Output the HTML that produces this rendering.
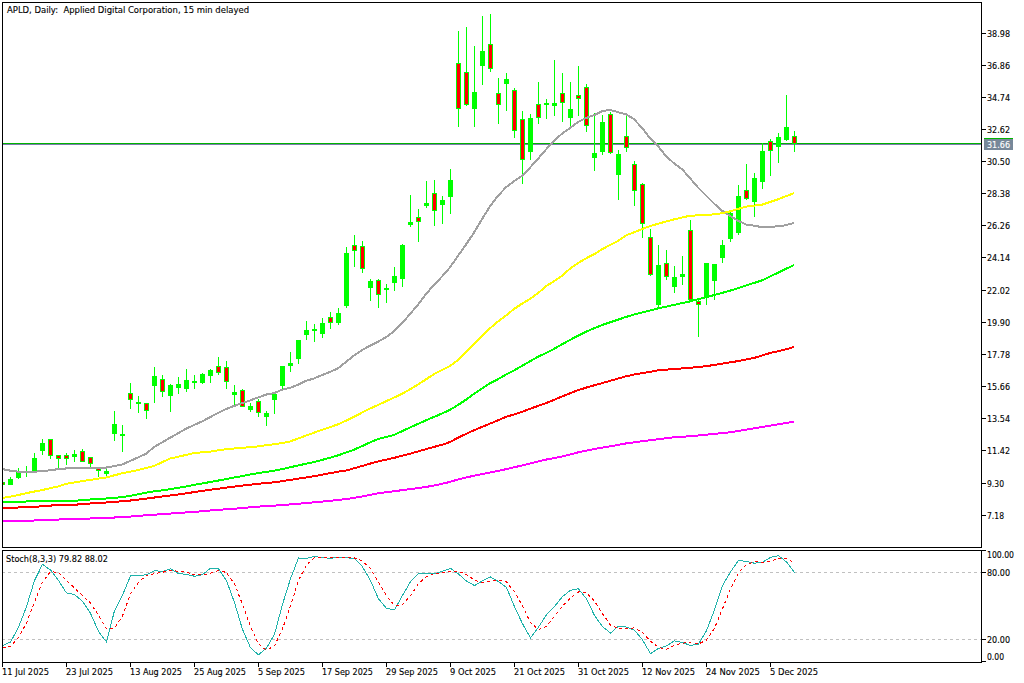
<!DOCTYPE html>
<html><head><meta charset="utf-8"><title>APLD, Daily</title>
<style>html,body{margin:0;padding:0;background:#fff;width:1024px;height:683px;overflow:hidden;position:relative}
text{white-space:pre}
.t{font-family:"DejaVu Sans Condensed","DejaVu Sans","Liberation Sans",sans-serif;font-stretch:condensed;font-size:9.5px}</style></head><body>
<svg width="1024" height="683" viewBox="0 0 1024 683" shape-rendering="crispEdges" style="position:absolute;left:0;top:0">
<rect x="0" y="0" width="1024" height="683" fill="#FFFFFF"/>
<defs><clipPath id="cm"><rect x="3" y="3" width="978" height="544"/></clipPath><clipPath id="cs"><rect x="3" y="551" width="978" height="111"/></clipPath></defs>
<g clip-path="url(#cm)">
<rect x="3" y="143" width="978" height="1" fill="#00B400"/>
<rect x="3" y="144" width="978" height="1" fill="#7C7CAC"/>
</g>
<g clip-path="url(#cm)">
<rect x="2" y="480" width="1" height="8" fill="#00FF00"/>
<rect x="0" y="482" width="5" height="3" fill="#00FF00"/>
<rect x="1" y="483" width="3" height="1" fill="#FF0000"/>
<rect x="10" y="477" width="1" height="8" fill="#00FF00"/>
<rect x="8" y="479" width="5" height="6" fill="#00FF00"/>
<rect x="18" y="468" width="1" height="11" fill="#00FF00"/>
<rect x="16" y="472" width="5" height="6" fill="#00FF00"/>
<rect x="26" y="466" width="1" height="11" fill="#00FF00"/>
<rect x="24" y="471" width="5" height="2" fill="#00FF00"/>
<rect x="34" y="453" width="1" height="18" fill="#00FF00"/>
<rect x="32" y="458" width="5" height="13" fill="#00FF00"/>
<rect x="42" y="439" width="1" height="16" fill="#00FF00"/>
<rect x="40" y="443" width="5" height="8" fill="#00FF00"/>
<rect x="50" y="439" width="1" height="20" fill="#00FF00"/>
<rect x="48" y="439" width="5" height="17" fill="#00FF00"/>
<rect x="49" y="440" width="3" height="15" fill="#FF0000"/>
<rect x="58" y="455" width="1" height="14" fill="#00FF00"/>
<rect x="56" y="455" width="5" height="4" fill="#00FF00"/>
<rect x="57" y="456" width="3" height="2" fill="#FF0000"/>
<rect x="66" y="453" width="1" height="12" fill="#00FF00"/>
<rect x="64" y="455" width="5" height="4" fill="#00FF00"/>
<rect x="65" y="456" width="3" height="2" fill="#FF0000"/>
<rect x="74" y="450" width="1" height="12" fill="#00FF00"/>
<rect x="72" y="454" width="5" height="3" fill="#00FF00"/>
<rect x="82" y="449" width="1" height="13" fill="#00FF00"/>
<rect x="80" y="451" width="5" height="11" fill="#00FF00"/>
<rect x="81" y="452" width="3" height="9" fill="#FF0000"/>
<rect x="90" y="457" width="1" height="10" fill="#00FF00"/>
<rect x="88" y="457" width="5" height="7" fill="#00FF00"/>
<rect x="89" y="458" width="3" height="5" fill="#FF0000"/>
<rect x="98" y="467" width="1" height="10" fill="#00FF00"/>
<rect x="96" y="468" width="5" height="3" fill="#00FF00"/>
<rect x="97" y="469" width="3" height="1" fill="#FF0000"/>
<rect x="106" y="469" width="1" height="8" fill="#00FF00"/>
<rect x="104" y="471" width="5" height="3" fill="#00FF00"/>
<rect x="114" y="411" width="1" height="30" fill="#00FF00"/>
<rect x="112" y="424" width="5" height="10" fill="#00FF00"/>
<rect x="122" y="425" width="1" height="27" fill="#00FF00"/>
<rect x="120" y="434" width="5" height="2" fill="#00FF00"/>
<rect x="130" y="383" width="1" height="26" fill="#00FF00"/>
<rect x="128" y="393" width="5" height="7" fill="#00FF00"/>
<rect x="129" y="394" width="3" height="5" fill="#FF0000"/>
<rect x="138" y="396" width="1" height="17" fill="#00FF00"/>
<rect x="136" y="402" width="5" height="2" fill="#00FF00"/>
<rect x="146" y="403" width="1" height="16" fill="#00FF00"/>
<rect x="144" y="403" width="5" height="8" fill="#00FF00"/>
<rect x="145" y="404" width="3" height="6" fill="#FF0000"/>
<rect x="154" y="367" width="1" height="36" fill="#00FF00"/>
<rect x="152" y="376" width="5" height="10" fill="#00FF00"/>
<rect x="162" y="375" width="1" height="22" fill="#00FF00"/>
<rect x="160" y="379" width="5" height="13" fill="#00FF00"/>
<rect x="161" y="380" width="3" height="11" fill="#FF0000"/>
<rect x="170" y="384" width="1" height="28" fill="#00FF00"/>
<rect x="168" y="385" width="5" height="11" fill="#00FF00"/>
<rect x="178" y="377" width="1" height="17" fill="#00FF00"/>
<rect x="176" y="384" width="5" height="4" fill="#00FF00"/>
<rect x="186" y="369" width="1" height="23" fill="#00FF00"/>
<rect x="184" y="380" width="5" height="9" fill="#00FF00"/>
<rect x="194" y="375" width="1" height="14" fill="#00FF00"/>
<rect x="192" y="381" width="5" height="2" fill="#00FF00"/>
<rect x="202" y="373" width="1" height="11" fill="#00FF00"/>
<rect x="200" y="374" width="5" height="9" fill="#00FF00"/>
<rect x="210" y="369" width="1" height="14" fill="#00FF00"/>
<rect x="208" y="370" width="5" height="6" fill="#00FF00"/>
<rect x="218" y="357" width="1" height="18" fill="#00FF00"/>
<rect x="216" y="366" width="5" height="7" fill="#00FF00"/>
<rect x="217" y="367" width="3" height="5" fill="#FF0000"/>
<rect x="226" y="361" width="1" height="28" fill="#00FF00"/>
<rect x="224" y="367" width="5" height="15" fill="#00FF00"/>
<rect x="225" y="368" width="3" height="13" fill="#FF0000"/>
<rect x="234" y="385" width="1" height="21" fill="#00FF00"/>
<rect x="232" y="392" width="5" height="3" fill="#00FF00"/>
<rect x="242" y="389" width="1" height="18" fill="#00FF00"/>
<rect x="240" y="390" width="5" height="17" fill="#00FF00"/>
<rect x="241" y="391" width="3" height="15" fill="#FF0000"/>
<rect x="250" y="403" width="1" height="9" fill="#00FF00"/>
<rect x="248" y="406" width="5" height="4" fill="#00FF00"/>
<rect x="258" y="399" width="1" height="18" fill="#00FF00"/>
<rect x="256" y="401" width="5" height="12" fill="#00FF00"/>
<rect x="257" y="402" width="3" height="10" fill="#FF0000"/>
<rect x="266" y="411" width="1" height="15" fill="#00FF00"/>
<rect x="264" y="413" width="5" height="4" fill="#00FF00"/>
<rect x="274" y="393" width="1" height="21" fill="#00FF00"/>
<rect x="272" y="394" width="5" height="6" fill="#00FF00"/>
<rect x="282" y="366" width="1" height="24" fill="#00FF00"/>
<rect x="280" y="366" width="5" height="20" fill="#00FF00"/>
<rect x="290" y="352" width="1" height="20" fill="#00FF00"/>
<rect x="288" y="363" width="5" height="3" fill="#00FF00"/>
<rect x="298" y="340" width="1" height="24" fill="#00FF00"/>
<rect x="296" y="340" width="5" height="19" fill="#00FF00"/>
<rect x="306" y="321" width="1" height="19" fill="#00FF00"/>
<rect x="304" y="330" width="5" height="5" fill="#00FF00"/>
<rect x="314" y="324" width="1" height="18" fill="#00FF00"/>
<rect x="312" y="329" width="5" height="2" fill="#00FF00"/>
<rect x="322" y="318" width="1" height="20" fill="#00FF00"/>
<rect x="320" y="323" width="5" height="11" fill="#00FF00"/>
<rect x="330" y="312" width="1" height="17" fill="#00FF00"/>
<rect x="328" y="317" width="5" height="6" fill="#00FF00"/>
<rect x="329" y="318" width="3" height="4" fill="#FF0000"/>
<rect x="338" y="308" width="1" height="17" fill="#00FF00"/>
<rect x="336" y="313" width="5" height="10" fill="#00FF00"/>
<rect x="346" y="247" width="1" height="61" fill="#00FF00"/>
<rect x="344" y="253" width="5" height="53" fill="#00FF00"/>
<rect x="354" y="235" width="1" height="32" fill="#00FF00"/>
<rect x="352" y="245" width="5" height="6" fill="#00FF00"/>
<rect x="353" y="246" width="3" height="4" fill="#FF0000"/>
<rect x="362" y="241" width="1" height="32" fill="#00FF00"/>
<rect x="360" y="246" width="5" height="23" fill="#00FF00"/>
<rect x="361" y="247" width="3" height="21" fill="#FF0000"/>
<rect x="370" y="279" width="1" height="22" fill="#00FF00"/>
<rect x="368" y="281" width="5" height="7" fill="#00FF00"/>
<rect x="378" y="279" width="1" height="29" fill="#00FF00"/>
<rect x="376" y="280" width="5" height="15" fill="#00FF00"/>
<rect x="377" y="281" width="3" height="13" fill="#FF0000"/>
<rect x="386" y="284" width="1" height="19" fill="#00FF00"/>
<rect x="384" y="288" width="5" height="2" fill="#00FF00"/>
<rect x="394" y="267" width="1" height="24" fill="#00FF00"/>
<rect x="392" y="276" width="5" height="7" fill="#00FF00"/>
<rect x="402" y="244" width="1" height="43" fill="#00FF00"/>
<rect x="400" y="245" width="5" height="34" fill="#00FF00"/>
<rect x="410" y="195" width="1" height="32" fill="#00FF00"/>
<rect x="408" y="222" width="5" height="3" fill="#00FF00"/>
<rect x="418" y="209" width="1" height="33" fill="#00FF00"/>
<rect x="416" y="217" width="5" height="5" fill="#00FF00"/>
<rect x="417" y="218" width="3" height="3" fill="#FF0000"/>
<rect x="426" y="181" width="1" height="27" fill="#00FF00"/>
<rect x="424" y="203" width="5" height="3" fill="#00FF00"/>
<rect x="434" y="180" width="1" height="46" fill="#00FF00"/>
<rect x="432" y="193" width="5" height="18" fill="#00FF00"/>
<rect x="433" y="194" width="3" height="16" fill="#FF0000"/>
<rect x="442" y="196" width="1" height="28" fill="#00FF00"/>
<rect x="440" y="200" width="5" height="5" fill="#00FF00"/>
<rect x="450" y="169" width="1" height="45" fill="#00FF00"/>
<rect x="448" y="180" width="5" height="17" fill="#00FF00"/>
<rect x="458" y="31" width="1" height="96" fill="#00FF00"/>
<rect x="456" y="63" width="5" height="46" fill="#00FF00"/>
<rect x="457" y="64" width="3" height="44" fill="#FF0000"/>
<rect x="466" y="27" width="1" height="79" fill="#00FF00"/>
<rect x="464" y="72" width="5" height="33" fill="#00FF00"/>
<rect x="465" y="73" width="3" height="31" fill="#FF0000"/>
<rect x="474" y="46" width="1" height="81" fill="#00FF00"/>
<rect x="472" y="92" width="5" height="17" fill="#00FF00"/>
<rect x="482" y="16" width="1" height="69" fill="#00FF00"/>
<rect x="480" y="51" width="5" height="15" fill="#00FF00"/>
<rect x="490" y="14" width="1" height="58" fill="#00FF00"/>
<rect x="488" y="44" width="5" height="25" fill="#00FF00"/>
<rect x="489" y="45" width="3" height="23" fill="#FF0000"/>
<rect x="498" y="78" width="1" height="46" fill="#00FF00"/>
<rect x="496" y="93" width="5" height="12" fill="#00FF00"/>
<rect x="497" y="94" width="3" height="10" fill="#FF0000"/>
<rect x="506" y="73" width="1" height="38" fill="#00FF00"/>
<rect x="504" y="79" width="5" height="5" fill="#00FF00"/>
<rect x="514" y="88" width="1" height="50" fill="#00FF00"/>
<rect x="512" y="90" width="5" height="41" fill="#00FF00"/>
<rect x="513" y="91" width="3" height="39" fill="#FF0000"/>
<rect x="522" y="111" width="1" height="73" fill="#00FF00"/>
<rect x="520" y="119" width="5" height="41" fill="#00FF00"/>
<rect x="521" y="120" width="3" height="39" fill="#FF0000"/>
<rect x="530" y="114" width="1" height="46" fill="#00FF00"/>
<rect x="528" y="118" width="5" height="34" fill="#00FF00"/>
<rect x="538" y="82" width="1" height="42" fill="#00FF00"/>
<rect x="536" y="104" width="5" height="14" fill="#00FF00"/>
<rect x="537" y="105" width="3" height="12" fill="#FF0000"/>
<rect x="546" y="99" width="1" height="20" fill="#00FF00"/>
<rect x="544" y="103" width="5" height="2" fill="#00FF00"/>
<rect x="554" y="60" width="1" height="56" fill="#00FF00"/>
<rect x="552" y="103" width="5" height="3" fill="#00FF00"/>
<rect x="562" y="73" width="1" height="49" fill="#00FF00"/>
<rect x="560" y="93" width="5" height="10" fill="#00FF00"/>
<rect x="561" y="94" width="3" height="8" fill="#FF0000"/>
<rect x="570" y="82" width="1" height="45" fill="#00FF00"/>
<rect x="568" y="109" width="5" height="9" fill="#00FF00"/>
<rect x="578" y="66" width="1" height="50" fill="#00FF00"/>
<rect x="576" y="95" width="5" height="4" fill="#00FF00"/>
<rect x="577" y="96" width="3" height="2" fill="#FF0000"/>
<rect x="586" y="84" width="1" height="48" fill="#00FF00"/>
<rect x="584" y="87" width="5" height="39" fill="#00FF00"/>
<rect x="585" y="88" width="3" height="37" fill="#FF0000"/>
<rect x="594" y="113" width="1" height="58" fill="#00FF00"/>
<rect x="592" y="153" width="5" height="5" fill="#00FF00"/>
<rect x="602" y="115" width="1" height="40" fill="#00FF00"/>
<rect x="600" y="122" width="5" height="30" fill="#00FF00"/>
<rect x="610" y="112" width="1" height="42" fill="#00FF00"/>
<rect x="608" y="114" width="5" height="39" fill="#00FF00"/>
<rect x="609" y="115" width="3" height="37" fill="#FF0000"/>
<rect x="618" y="150" width="1" height="50" fill="#00FF00"/>
<rect x="616" y="154" width="5" height="21" fill="#00FF00"/>
<rect x="626" y="116" width="1" height="36" fill="#00FF00"/>
<rect x="624" y="136" width="5" height="12" fill="#00FF00"/>
<rect x="625" y="137" width="3" height="10" fill="#FF0000"/>
<rect x="634" y="161" width="1" height="45" fill="#00FF00"/>
<rect x="632" y="164" width="5" height="27" fill="#00FF00"/>
<rect x="633" y="165" width="3" height="25" fill="#FF0000"/>
<rect x="642" y="183" width="1" height="55" fill="#00FF00"/>
<rect x="640" y="184" width="5" height="40" fill="#00FF00"/>
<rect x="641" y="185" width="3" height="38" fill="#FF0000"/>
<rect x="650" y="229" width="1" height="47" fill="#00FF00"/>
<rect x="648" y="237" width="5" height="38" fill="#00FF00"/>
<rect x="649" y="238" width="3" height="36" fill="#FF0000"/>
<rect x="658" y="245" width="1" height="64" fill="#00FF00"/>
<rect x="656" y="265" width="5" height="40" fill="#00FF00"/>
<rect x="666" y="250" width="1" height="30" fill="#00FF00"/>
<rect x="664" y="263" width="5" height="14" fill="#00FF00"/>
<rect x="665" y="264" width="3" height="12" fill="#FF0000"/>
<rect x="674" y="266" width="1" height="27" fill="#00FF00"/>
<rect x="672" y="277" width="5" height="10" fill="#00FF00"/>
<rect x="682" y="256" width="1" height="29" fill="#00FF00"/>
<rect x="680" y="274" width="5" height="3" fill="#00FF00"/>
<rect x="690" y="220" width="1" height="81" fill="#00FF00"/>
<rect x="688" y="230" width="5" height="70" fill="#00FF00"/>
<rect x="689" y="231" width="3" height="68" fill="#FF0000"/>
<rect x="698" y="300" width="1" height="37" fill="#00FF00"/>
<rect x="696" y="301" width="5" height="4" fill="#00FF00"/>
<rect x="697" y="302" width="3" height="2" fill="#FF0000"/>
<rect x="706" y="263" width="1" height="42" fill="#00FF00"/>
<rect x="704" y="263" width="5" height="34" fill="#00FF00"/>
<rect x="714" y="264" width="1" height="36" fill="#00FF00"/>
<rect x="712" y="264" width="5" height="17" fill="#00FF00"/>
<rect x="722" y="240" width="1" height="23" fill="#00FF00"/>
<rect x="720" y="245" width="5" height="13" fill="#00FF00"/>
<rect x="730" y="212" width="1" height="30" fill="#00FF00"/>
<rect x="728" y="213" width="5" height="26" fill="#00FF00"/>
<rect x="738" y="185" width="1" height="50" fill="#00FF00"/>
<rect x="736" y="196" width="5" height="37" fill="#00FF00"/>
<rect x="746" y="164" width="1" height="36" fill="#00FF00"/>
<rect x="744" y="190" width="5" height="9" fill="#00FF00"/>
<rect x="745" y="191" width="3" height="7" fill="#FF0000"/>
<rect x="754" y="173" width="1" height="44" fill="#00FF00"/>
<rect x="752" y="178" width="5" height="24" fill="#00FF00"/>
<rect x="762" y="143" width="1" height="46" fill="#00FF00"/>
<rect x="760" y="151" width="5" height="31" fill="#00FF00"/>
<rect x="770" y="139" width="1" height="37" fill="#00FF00"/>
<rect x="768" y="141" width="5" height="10" fill="#00FF00"/>
<rect x="769" y="142" width="3" height="8" fill="#FF0000"/>
<rect x="778" y="133" width="1" height="30" fill="#00FF00"/>
<rect x="776" y="137" width="5" height="10" fill="#00FF00"/>
<rect x="786" y="95" width="1" height="46" fill="#00FF00"/>
<rect x="784" y="127" width="5" height="13" fill="#00FF00"/>
<rect x="794" y="131" width="1" height="21" fill="#00FF00"/>
<rect x="792" y="136" width="5" height="8" fill="#00FF00"/>
<rect x="793" y="137" width="3" height="6" fill="#FF0000"/>
<polyline points="2.00,521.00 10.00,520.91 18.00,520.81 26.00,520.67 34.00,520.52 42.00,520.21 50.00,519.88 58.00,519.54 66.00,519.28 74.00,519.03 82.00,518.78 90.00,518.53 98.00,518.21 106.00,517.88 114.00,517.54 122.00,517.06 130.00,516.56 138.00,515.86 146.00,515.30 154.00,514.74 162.00,514.18 170.00,513.61 178.00,513.04 186.00,512.46 194.00,511.89 202.00,511.24 210.00,510.53 218.00,509.86 226.00,509.30 234.00,508.74 242.00,508.06 250.00,507.34 258.00,506.67 266.00,506.15 274.00,505.63 282.00,505.05 290.00,504.45 298.00,503.81 306.00,503.05 314.00,502.29 322.00,501.56 330.00,500.84 338.00,500.04 346.00,499.00 354.00,497.96 362.00,496.47 370.00,494.83 378.00,493.33 386.00,492.27 394.00,491.20 402.00,490.18 410.00,489.16 418.00,488.07 426.00,486.96 434.00,485.53 442.00,483.80 450.00,481.88 458.00,479.52 466.00,477.60 474.00,475.68 482.00,474.06 490.00,472.54 498.00,470.95 506.00,469.15 514.00,467.35 522.00,465.46 530.00,463.54 538.00,461.60 546.00,459.60 554.00,458.05 562.00,456.50 570.00,454.45 578.00,452.40 586.00,450.70 594.00,449.00 602.00,447.70 610.00,446.40 618.00,444.90 626.00,443.40 634.00,442.35 642.00,441.30 650.00,440.30 658.00,439.30 666.00,438.25 674.00,437.20 682.00,436.75 690.00,436.30 698.00,435.50 706.00,434.70 714.00,433.90 722.00,433.10 730.00,432.30 738.00,431.00 746.00,429.70 754.00,428.40 762.00,427.06 770.00,425.72 778.00,424.38 786.00,423.04 794.00,421.70" fill="none" stroke="#FF00FF" stroke-width="2" />
<polyline points="2.00,508.00 10.00,507.78 18.00,507.53 26.00,507.21 34.00,506.82 42.00,506.36 50.00,505.60 58.00,505.11 66.00,504.96 74.00,504.90 82.00,504.01 90.00,503.49 98.00,503.03 106.00,502.50 114.00,501.90 122.00,501.30 130.00,500.56 138.00,499.64 146.00,498.61 154.00,497.58 162.00,496.52 170.00,495.50 178.00,494.50 186.00,493.38 194.00,492.12 202.00,490.94 210.00,489.83 218.00,488.73 226.00,487.65 234.00,486.57 242.00,485.61 250.00,484.69 258.00,483.81 266.00,483.05 274.00,482.29 282.00,481.17 290.00,479.93 298.00,478.69 306.00,477.45 314.00,476.21 322.00,474.73 330.00,473.17 338.00,471.70 346.00,470.50 354.00,468.34 362.00,466.03 370.00,463.67 378.00,461.46 386.00,459.68 394.00,457.90 402.00,455.81 410.00,453.72 418.00,451.47 426.00,449.16 434.00,446.93 442.00,444.80 450.00,442.05 458.00,437.67 466.00,433.95 474.00,430.23 482.00,426.87 490.00,423.63 498.00,420.32 506.00,416.80 514.00,414.56 522.00,411.78 530.00,408.82 538.00,405.92 546.00,403.20 554.00,399.83 562.00,396.51 570.00,393.35 578.00,390.19 586.00,387.69 594.00,385.41 602.00,383.13 610.00,380.85 618.00,378.57 626.00,376.32 634.00,374.56 642.00,373.24 650.00,371.80 658.00,370.36 666.00,369.61 674.00,369.10 682.00,368.45 690.00,367.80 698.00,367.00 706.00,366.20 714.00,364.95 722.00,363.70 730.00,362.40 738.00,361.10 746.00,359.55 754.00,358.00 762.00,355.50 770.00,353.00 778.00,351.33 786.00,349.33 794.00,347.00" fill="none" stroke="#FF0000" stroke-width="2" />
<polyline points="2.00,502.20 10.00,502.00 18.00,501.80 26.00,501.51 34.00,501.22 42.00,500.99 50.00,500.94 58.00,500.89 66.00,500.85 74.00,500.80 82.00,500.15 90.00,499.50 98.00,499.02 106.00,498.54 114.00,497.90 122.00,497.10 130.00,495.94 138.00,494.39 146.00,492.73 154.00,491.38 162.00,490.32 170.00,489.15 178.00,487.85 186.00,486.45 194.00,484.95 202.00,483.49 210.00,482.07 218.00,480.62 226.00,479.10 234.00,477.58 242.00,476.06 250.00,474.54 258.00,473.11 266.00,471.95 274.00,470.79 282.00,469.12 290.00,467.28 298.00,465.47 306.00,463.75 314.00,462.03 322.00,459.95 330.00,457.75 338.00,455.39 346.00,452.55 354.00,449.71 362.00,446.18 370.00,442.42 378.00,439.09 386.00,437.04 394.00,435.00 402.00,431.22 410.00,427.44 418.00,423.87 426.00,420.36 434.00,416.91 442.00,413.53 450.00,409.80 458.00,405.00 466.00,399.70 474.00,393.90 482.00,388.60 490.00,383.30 498.00,379.20 506.00,374.50 514.00,370.40 522.00,365.85 530.00,361.25 538.00,356.82 546.00,352.93 554.00,348.88 562.00,344.38 570.00,339.95 578.00,335.75 586.00,331.74 594.00,328.29 602.00,325.03 610.00,322.33 618.00,319.64 626.00,316.95 634.00,314.57 642.00,312.51 650.00,310.46 658.00,308.40 666.00,306.65 674.00,304.90 682.00,303.15 690.00,301.40 698.00,299.29 706.00,297.19 714.00,295.08 722.00,292.94 730.00,290.70 738.00,288.12 746.00,285.55 754.00,282.97 762.00,280.40 770.00,276.55 778.00,272.70 786.00,268.85 794.00,265.00" fill="none" stroke="#00FF00" stroke-width="2" />
<polyline points="2.00,469.00 10.00,470.60 18.00,471.60 26.00,471.60 34.00,471.60 42.00,471.33 50.00,470.25 58.00,469.17 66.00,468.46 74.00,467.87 82.00,467.75 90.00,467.70 98.00,467.65 106.00,467.60 114.00,466.10 122.00,464.60 130.00,461.00 138.00,457.40 146.00,453.80 154.00,447.10 162.00,442.45 170.00,437.75 178.00,433.35 186.00,428.80 194.00,424.95 202.00,421.50 210.00,417.25 218.00,412.95 226.00,409.10 234.00,406.00 242.00,403.25 250.00,400.40 258.00,397.50 266.00,394.60 274.00,393.10 282.00,389.70 290.00,387.90 298.00,384.80 306.00,380.80 314.00,378.45 322.00,375.05 330.00,371.90 338.00,368.35 346.00,362.00 354.00,355.45 362.00,350.15 370.00,345.70 378.00,341.80 386.00,337.15 394.00,331.35 402.00,323.30 410.00,314.10 418.00,304.55 426.00,294.05 434.00,284.85 442.00,276.55 450.00,267.40 458.00,255.80 466.00,244.50 474.00,232.65 482.00,219.05 490.00,206.35 498.00,195.90 506.00,187.20 514.00,181.20 522.00,175.75 530.00,167.60 538.00,158.75 546.00,149.50 554.00,140.85 562.00,133.70 570.00,128.05 578.00,121.90 586.00,118.00 594.00,115.15 602.00,111.25 610.00,109.85 618.00,112.15 626.00,114.30 634.00,119.20 642.00,127.80 650.00,138.10 658.00,146.15 666.00,156.00 674.00,163.35 682.00,169.10 690.00,178.15 698.00,187.50 706.00,195.50 714.00,203.55 722.00,210.70 730.00,215.90 738.00,220.80 746.00,224.45 754.00,225.70 762.00,227.15 770.00,227.05 778.00,226.20 786.00,225.20 794.00,222.85" fill="none" stroke="#A0A0A0" stroke-width="2" />
<polyline points="2.00,498.00 10.00,496.67 18.00,495.10 26.00,493.20 34.00,491.60 42.00,490.10 50.00,488.25 58.00,486.43 66.00,483.80 74.00,482.45 82.00,481.10 90.00,479.90 98.00,478.70 106.00,477.50 114.00,475.40 122.00,473.30 130.00,471.70 138.00,470.00 146.00,468.00 154.00,466.00 162.00,462.30 170.00,458.60 178.00,456.77 186.00,454.93 194.00,453.10 202.00,452.35 210.00,451.60 218.00,450.40 226.00,449.20 234.00,448.53 242.00,447.87 250.00,447.20 258.00,446.42 266.00,445.29 274.00,444.17 282.00,443.04 290.00,441.47 298.00,438.54 306.00,435.62 314.00,432.69 322.00,429.82 330.00,427.10 338.00,424.38 346.00,420.70 354.00,416.70 362.00,412.65 370.00,408.60 378.00,404.95 386.00,401.30 394.00,397.60 402.00,393.90 410.00,389.25 418.00,384.60 426.00,379.35 434.00,374.10 442.00,369.86 450.00,366.10 458.00,359.90 466.00,351.90 474.00,343.97 482.00,336.10 490.00,328.30 498.00,321.43 506.00,315.50 514.00,309.00 522.00,303.70 530.00,298.90 538.00,293.20 546.00,286.10 554.00,281.30 562.00,275.80 570.00,268.70 578.00,263.00 586.00,258.40 594.00,254.30 602.00,249.20 610.00,245.10 618.00,241.00 626.00,235.40 634.00,232.30 642.00,229.06 650.00,226.10 658.00,223.78 666.00,221.46 674.00,219.38 682.00,217.54 690.00,215.70 698.00,215.38 706.00,215.06 714.00,214.32 722.00,213.18 730.00,211.40 738.00,209.00 746.00,206.60 754.00,205.65 762.00,204.70 770.00,202.00 778.00,199.30 786.00,196.20 794.00,193.10" fill="none" stroke="#FFFF00" stroke-width="2" />
</g>
<g clip-path="url(#cs)">
<line x1="2" y1="572.5" x2="981" y2="572.5" stroke="#C0C0C0" stroke-width="1" stroke-dasharray="3,3"/>
<line x1="2" y1="639.5" x2="981" y2="639.5" stroke="#C0C0C0" stroke-width="1" stroke-dasharray="3,3"/>
<polyline points="2.50,645.70 10.50,642.00 18.50,627.30 26.50,606.60 34.50,580.50 42.50,564.40 50.50,570.00 58.50,580.50 66.50,593.00 74.50,594.57 82.50,601.37 90.50,613.28 98.50,631.40 106.50,641.97 114.50,610.69 122.50,595.20 130.50,575.88 138.50,575.65 146.50,574.67 154.50,570.69 162.50,571.41 170.50,568.75 178.50,573.64 186.50,574.33 194.50,576.26 202.50,574.67 210.50,568.25 218.50,568.62 226.50,580.67 234.50,602.65 242.50,629.39 250.50,647.77 258.50,654.83 266.50,648.12 274.50,634.25 282.50,604.39 290.50,578.70 298.50,558.00 306.50,558.47 314.50,556.44 322.50,557.75 330.50,558.18 338.50,557.68 346.50,557.62 354.50,558.67 362.50,566.74 370.50,580.69 378.50,598.78 386.50,608.27 394.50,609.80 402.50,595.45 410.50,581.71 418.50,573.62 426.50,573.79 434.50,573.72 442.50,571.31 450.50,568.30 458.50,574.07 466.50,581.04 474.50,585.59 482.50,580.84 490.50,576.96 498.50,581.59 506.50,587.48 514.50,606.65 522.50,623.70 530.50,637.89 538.50,627.07 546.50,614.80 554.50,606.58 562.50,596.54 570.50,590.31 578.50,588.80 586.50,598.90 594.50,615.53 602.50,626.55 610.50,633.08 618.50,626.10 626.50,627.05 634.50,630.30 642.50,639.84 650.50,653.68 658.50,648.43 666.50,645.80 674.50,640.85 682.50,642.44 690.50,645.53 698.50,644.08 706.50,630.58 714.50,609.97 722.50,585.72 730.50,571.83 738.50,560.50 746.50,561.42 754.50,563.23 762.50,562.31 770.50,557.43 778.50,555.67 786.50,561.99 794.50,572.52" fill="none" stroke="#20B2AA" stroke-width="1" />
<polyline points="2.50,647.40 10.50,646.40 18.50,637.60 26.50,623.00 34.50,602.00 42.50,582.00 50.50,571.70 58.50,572.50 66.50,580.50 74.50,588.00 82.50,595.50 90.50,603.07 98.50,615.35 106.50,628.88 114.50,628.02 122.50,615.95 130.50,593.92 138.50,582.24 146.50,575.40 154.50,573.67 162.50,572.26 170.50,570.28 178.50,571.27 186.50,572.24 194.50,574.74 202.50,575.08 210.50,573.06 218.50,570.51 226.50,572.51 234.50,583.98 242.50,604.24 250.50,626.60 258.50,644.00 266.50,650.24 274.50,645.73 282.50,628.92 290.50,605.78 298.50,580.36 306.50,565.06 314.50,557.64 322.50,557.56 330.50,557.46 338.50,557.87 346.50,557.83 354.50,557.99 362.50,561.01 370.50,568.70 378.50,582.07 386.50,595.91 394.50,605.62 402.50,604.50 410.50,595.65 418.50,583.60 426.50,576.38 434.50,573.71 442.50,572.94 450.50,571.11 458.50,571.23 466.50,574.47 474.50,580.24 482.50,582.49 490.50,581.13 498.50,579.80 506.50,582.01 514.50,591.91 522.50,605.94 530.50,622.74 538.50,629.55 546.50,626.58 554.50,616.15 562.50,605.98 570.50,597.81 578.50,591.88 586.50,592.67 594.50,601.08 602.50,613.66 610.50,625.05 618.50,628.58 626.50,628.74 634.50,627.82 642.50,632.40 650.50,641.28 658.50,647.32 666.50,649.30 674.50,645.03 682.50,643.03 690.50,642.94 698.50,644.02 706.50,640.06 714.50,628.21 722.50,608.76 730.50,589.17 738.50,572.68 746.50,564.58 754.50,561.72 762.50,562.32 770.50,560.99 778.50,558.47 786.50,558.37 794.50,563.40" fill="none" stroke="#FF0000" stroke-width="1" stroke-dasharray="3,3"/>
</g>
<rect x="2.5" y="2.5" width="979" height="545" fill="none" stroke="#000" stroke-width="1"/>
<rect x="2.5" y="550.5" width="979" height="112" fill="none" stroke="#000" stroke-width="1"/>
<rect x="982" y="33" width="4" height="1" fill="#000"/>
<text class="t" x="987" y="37" fill="#000" stroke="#000" stroke-width="0.12" textLength="23" lengthAdjust="spacingAndGlyphs">38.98</text>
<rect x="982" y="65" width="4" height="1" fill="#000"/>
<text class="t" x="987" y="69" fill="#000" stroke="#000" stroke-width="0.12" textLength="23" lengthAdjust="spacingAndGlyphs">36.86</text>
<rect x="982" y="97" width="4" height="1" fill="#000"/>
<text class="t" x="987" y="101" fill="#000" stroke="#000" stroke-width="0.12" textLength="23" lengthAdjust="spacingAndGlyphs">34.74</text>
<rect x="982" y="129" width="4" height="1" fill="#000"/>
<text class="t" x="987" y="133" fill="#000" stroke="#000" stroke-width="0.12" textLength="23" lengthAdjust="spacingAndGlyphs">32.62</text>
<rect x="982" y="161" width="4" height="1" fill="#000"/>
<text class="t" x="987" y="165" fill="#000" stroke="#000" stroke-width="0.12" textLength="23" lengthAdjust="spacingAndGlyphs">30.50</text>
<rect x="982" y="193" width="4" height="1" fill="#000"/>
<text class="t" x="987" y="197" fill="#000" stroke="#000" stroke-width="0.12" textLength="23" lengthAdjust="spacingAndGlyphs">28.38</text>
<rect x="982" y="225" width="4" height="1" fill="#000"/>
<text class="t" x="987" y="229" fill="#000" stroke="#000" stroke-width="0.12" textLength="23" lengthAdjust="spacingAndGlyphs">26.26</text>
<rect x="982" y="257" width="4" height="1" fill="#000"/>
<text class="t" x="987" y="261" fill="#000" stroke="#000" stroke-width="0.12" textLength="23" lengthAdjust="spacingAndGlyphs">24.14</text>
<rect x="982" y="290" width="4" height="1" fill="#000"/>
<text class="t" x="987" y="294" fill="#000" stroke="#000" stroke-width="0.12" textLength="23" lengthAdjust="spacingAndGlyphs">22.02</text>
<rect x="982" y="322" width="4" height="1" fill="#000"/>
<text class="t" x="987" y="326" fill="#000" stroke="#000" stroke-width="0.12" textLength="23" lengthAdjust="spacingAndGlyphs">19.90</text>
<rect x="982" y="354" width="4" height="1" fill="#000"/>
<text class="t" x="987" y="358" fill="#000" stroke="#000" stroke-width="0.12" textLength="23" lengthAdjust="spacingAndGlyphs">17.78</text>
<rect x="982" y="386" width="4" height="1" fill="#000"/>
<text class="t" x="987" y="390" fill="#000" stroke="#000" stroke-width="0.12" textLength="23" lengthAdjust="spacingAndGlyphs">15.66</text>
<rect x="982" y="418" width="4" height="1" fill="#000"/>
<text class="t" x="987" y="422" fill="#000" stroke="#000" stroke-width="0.12" textLength="23" lengthAdjust="spacingAndGlyphs">13.54</text>
<rect x="982" y="450" width="4" height="1" fill="#000"/>
<text class="t" x="987" y="454" fill="#000" stroke="#000" stroke-width="0.12" textLength="23" lengthAdjust="spacingAndGlyphs">11.42</text>
<rect x="982" y="483" width="4" height="1" fill="#000"/>
<text class="t" x="987" y="487" fill="#000" stroke="#000" stroke-width="0.12" textLength="17" lengthAdjust="spacingAndGlyphs">9.30</text>
<rect x="982" y="515" width="4" height="1" fill="#000"/>
<text class="t" x="987" y="519" fill="#000" stroke="#000" stroke-width="0.12" textLength="17" lengthAdjust="spacingAndGlyphs">7.18</text>
<rect x="984" y="138" width="29" height="1" fill="#00B400"/>
<rect x="984" y="139" width="29" height="11" fill="#778899"/>
<text class="t" x="987" y="148" fill="#FFF" stroke="#FFF" stroke-width="0.12" textLength="23" lengthAdjust="spacingAndGlyphs">31.66</text>
<rect x="982" y="550" width="4" height="1" fill="#000"/>
<text class="t" x="987" y="558" fill="#000" stroke="#000" stroke-width="0.12" textLength="27" lengthAdjust="spacingAndGlyphs">100.00</text>
<rect x="982" y="572" width="4" height="1" fill="#000"/>
<text class="t" x="987" y="576" fill="#000" stroke="#000" stroke-width="0.12" textLength="23" lengthAdjust="spacingAndGlyphs">80.00</text>
<rect x="982" y="639" width="4" height="1" fill="#000"/>
<text class="t" x="987" y="643" fill="#000" stroke="#000" stroke-width="0.12" textLength="23" lengthAdjust="spacingAndGlyphs">20.00</text>
<rect x="982" y="661" width="4" height="1" fill="#000"/>
<text class="t" x="987" y="660" fill="#000" stroke="#000" stroke-width="0.12" textLength="17" lengthAdjust="spacingAndGlyphs">0.00</text>
<rect x="2" y="663" width="1" height="4" fill="#000"/>
<text class="t" x="2" y="675" fill="#000" stroke="#000" stroke-width="0.12" textLength="47" lengthAdjust="spacingAndGlyphs">11 Jul 2025</text>
<rect x="66" y="663" width="1" height="4" fill="#000"/>
<text class="t" x="66" y="675" fill="#000" stroke="#000" stroke-width="0.12" textLength="47" lengthAdjust="spacingAndGlyphs">23 Jul 2025</text>
<rect x="130" y="663" width="1" height="4" fill="#000"/>
<text class="t" x="130" y="675" fill="#000" stroke="#000" stroke-width="0.12" textLength="52" lengthAdjust="spacingAndGlyphs">13 Aug 2025</text>
<rect x="194" y="663" width="1" height="4" fill="#000"/>
<text class="t" x="194" y="675" fill="#000" stroke="#000" stroke-width="0.12" textLength="52" lengthAdjust="spacingAndGlyphs">25 Aug 2025</text>
<rect x="258" y="663" width="1" height="4" fill="#000"/>
<text class="t" x="258" y="675" fill="#000" stroke="#000" stroke-width="0.12" textLength="47" lengthAdjust="spacingAndGlyphs">5 Sep 2025</text>
<rect x="322" y="663" width="1" height="4" fill="#000"/>
<text class="t" x="322" y="675" fill="#000" stroke="#000" stroke-width="0.12" textLength="51" lengthAdjust="spacingAndGlyphs">17 Sep 2025</text>
<rect x="386" y="663" width="1" height="4" fill="#000"/>
<text class="t" x="386" y="675" fill="#000" stroke="#000" stroke-width="0.12" textLength="52" lengthAdjust="spacingAndGlyphs">29 Sep 2025</text>
<rect x="450" y="663" width="1" height="4" fill="#000"/>
<text class="t" x="450" y="675" fill="#000" stroke="#000" stroke-width="0.12" textLength="46" lengthAdjust="spacingAndGlyphs">9 Oct 2025</text>
<rect x="514" y="663" width="1" height="4" fill="#000"/>
<text class="t" x="514" y="675" fill="#000" stroke="#000" stroke-width="0.12" textLength="51" lengthAdjust="spacingAndGlyphs">21 Oct 2025</text>
<rect x="578" y="663" width="1" height="4" fill="#000"/>
<text class="t" x="578" y="675" fill="#000" stroke="#000" stroke-width="0.12" textLength="51" lengthAdjust="spacingAndGlyphs">31 Oct 2025</text>
<rect x="642" y="663" width="1" height="4" fill="#000"/>
<text class="t" x="642" y="675" fill="#000" stroke="#000" stroke-width="0.12" textLength="53" lengthAdjust="spacingAndGlyphs">12 Nov 2025</text>
<rect x="706" y="663" width="1" height="4" fill="#000"/>
<text class="t" x="706" y="675" fill="#000" stroke="#000" stroke-width="0.12" textLength="54" lengthAdjust="spacingAndGlyphs">24 Nov 2025</text>
<rect x="770" y="663" width="1" height="4" fill="#000"/>
<text class="t" x="770" y="675" fill="#000" stroke="#000" stroke-width="0.12" textLength="48" lengthAdjust="spacingAndGlyphs">5 Dec 2025</text>
<text class="t" x="7" y="13" fill="#000" stroke="#000" stroke-width="0.12" textLength="242" lengthAdjust="spacingAndGlyphs">APLD, Daily:  Applied Digital Corporation, 15 min delayed</text>
<text class="t" x="6" y="562" fill="#000" stroke="#000" stroke-width="0.12" textLength="102" lengthAdjust="spacingAndGlyphs">Stoch(8,3,3) 79.82 88.02</text>
</svg>
</body></html>
